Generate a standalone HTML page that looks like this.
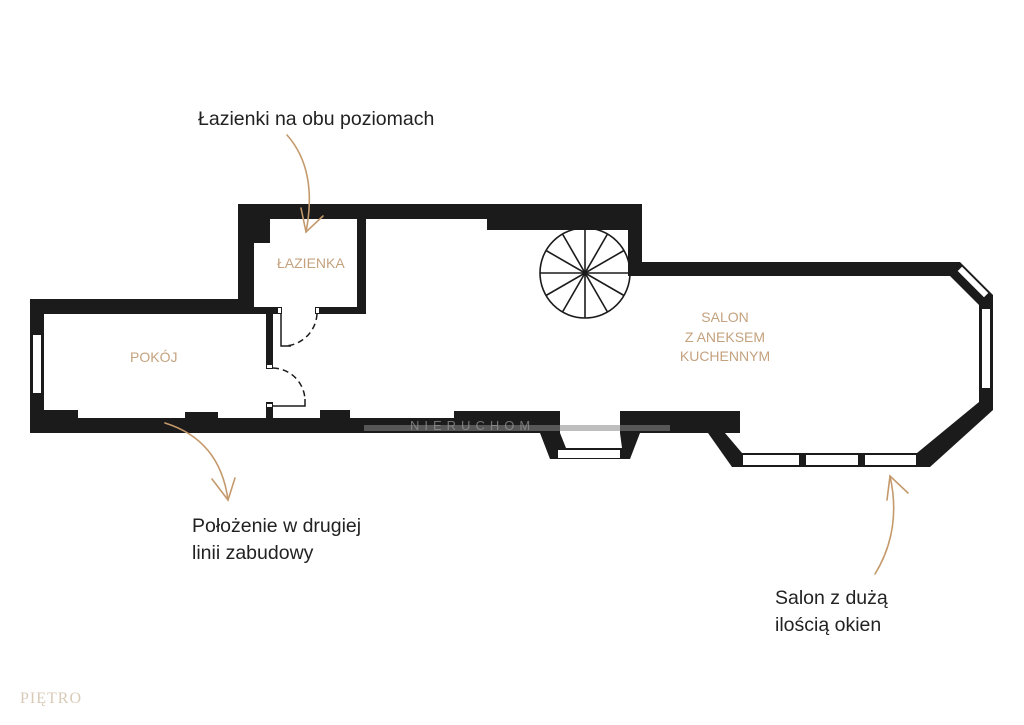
<!DOCTYPE html>
<html><head><meta charset="utf-8"><style>
html,body{margin:0;padding:0;background:#fff;}
svg{display:block;}
.t{font-family:"Liberation Sans","DejaVu Sans",sans-serif;fill:#222;font-size:19.5px;}
.l{font-family:"Liberation Sans","DejaVu Sans",sans-serif;fill:#c4a27e;font-size:14px;}
</style></head><body>
<svg width="1024" height="725" viewBox="0 0 1024 725" xmlns="http://www.w3.org/2000/svg">
<g fill="#1b1b1b">
<rect x="238" y="204" width="404" height="15"/>
<rect x="487" y="204" width="155" height="26"/>
<rect x="238" y="204" width="16" height="110"/>
<rect x="254" y="219" width="16" height="24"/>
<rect x="357" y="219" width="9" height="95"/>
<rect x="254" y="307" width="27" height="7"/>
<rect x="315" y="307" width="51" height="7"/>
<rect x="30" y="299" width="224" height="15"/>
<rect x="30" y="299" width="14" height="134"/>
<rect x="30" y="418" width="530" height="15"/>
<rect x="44" y="410" width="34" height="8"/>
<rect x="185" y="412" width="33" height="6"/>
<rect x="320" y="410" width="30" height="8"/>
<rect x="454" y="411" width="106" height="22"/>
<rect x="266" y="314" width="7" height="53"/>
<rect x="266" y="402" width="7" height="16"/>
<rect x="628" y="219" width="14" height="57"/>
<rect x="642" y="262" width="318" height="14"/>
<rect x="979" y="295" width="14" height="107"/>
<polygon points="960,262 993,295 993,305 979,305 950,276 960,276"/>
<polygon points="993,402 993,410 930,467 917,467 917,453 979,402"/>
<rect x="740" y="453" width="177" height="14"/>
<rect x="620" y="411" width="120" height="22"/>
<polygon points="708,433 725,433 742,453 742,467 732,467"/>
<polygon points="540,433 560,433 566,448 556,448 556,459 550,459"/>
<polygon points="620,433 640,433 630,459 620,459 622,448"/>
<rect x="556" y="448" width="66" height="11"/>
</g>
<g fill="#fff" stroke="#1b1b1b" stroke-width="1">
<rect x="32.5" y="334.5" width="9" height="59"/>
<rect x="981.5" y="308.5" width="9" height="80"/>
<rect x="557.5" y="449.5" width="63" height="9"/>
<rect x="742.5" y="454.5" width="57" height="11"/>
<rect x="805.5" y="454.5" width="53" height="11"/>
<rect x="864.5" y="454.5" width="52" height="11"/>
<polygon points="962,266 989,293 984,298 957,271" />
<rect x="277.5" y="307.5" width="4" height="6"/>
<rect x="315.5" y="307.5" width="4" height="6"/>
<rect x="266.5" y="364.5" width="6" height="4"/>
<rect x="266.5" y="403.5" width="6" height="4"/>
</g>
<g fill="none" stroke="#1b1b1b" stroke-width="1.5">
<path d="M281,314 V346 H291"/>
<path d="M317,314 A34,34 0 0 1 285,346" stroke-dasharray="6,4"/>
<path d="M273,406 H305 V399"/>
<path d="M273,368 A33,33 0 0 1 305,400" stroke-dasharray="6,4"/>
</g>
<g fill="none" stroke="#1b1b1b" stroke-width="1.6">
<circle cx="585" cy="273" r="45"/>
<line x1="585" y1="228" x2="585" y2="318"/>
<line x1="540" y1="273" x2="630" y2="273"/>
<line x1="562.5" y1="234" x2="607.5" y2="312"/>
<line x1="607.5" y1="234" x2="562.5" y2="312"/>
<line x1="546" y1="250.5" x2="624" y2="295.5"/>
<line x1="546" y1="295.5" x2="624" y2="250.5"/>
</g>
<rect x="364" y="425" width="306" height="6" fill="#888" opacity="0.55"/>
<text x="410" y="430" font-family="Liberation Sans,sans-serif" font-size="13" letter-spacing="5" fill="#999" opacity="0.7">NIERUCHOM</text>
<text class="l" x="277" y="268">ŁAZIENKA</text>
<text class="l" x="130" y="362">POKÓJ</text>
<text class="l" x="725" y="322" text-anchor="middle">SALON</text>
<text class="l" x="725" y="342" text-anchor="middle">Z ANEKSEM</text>
<text class="l" x="725" y="361" text-anchor="middle">KUCHENNYM</text>
<text class="t" x="198" y="125">Łazienki na obu poziomach</text>
<text class="t" x="192" y="532">Położenie w drugiej</text>
<text class="t" x="192" y="559">linii zabudowy</text>
<text class="t" x="775" y="604">Salon z dużą</text>
<text class="t" x="775" y="631">ilością okien</text>
<g fill="none" stroke="#c49a6c" stroke-width="1.6" stroke-linecap="round">
<path d="M287,135 Q318,170 306,232"/>
<path d="M301,208 L306,232 L323,216"/>
<path d="M165,423 Q220,440 228,500"/>
<path d="M212,479 L228,500 L235,478"/>
<path d="M875,574 Q902,530 890,476"/>
<path d="M887,500 L890,476 L908,493"/>
</g>
<text x="20" y="703" font-family="Liberation Serif,serif" font-size="16" fill="#c9b49a" opacity="0.7" letter-spacing="1">PIĘTRO</text>
</svg>
</body></html>
